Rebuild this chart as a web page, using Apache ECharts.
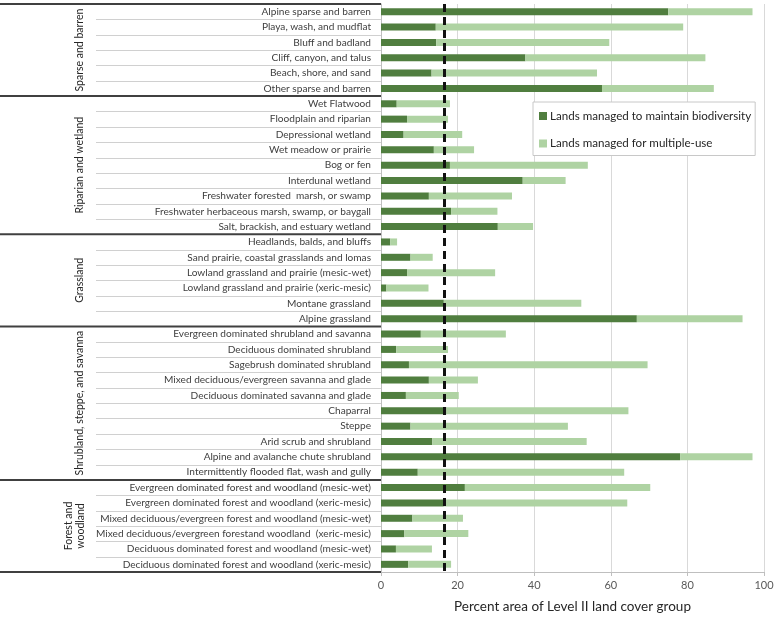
<!DOCTYPE html>
<html>
<head>
<meta charset="utf-8">
<script src="https://cdn.jsdelivr.net/npm/echarts@6/dist/echarts.min.js"></script>
<style>html,body{margin:0;padding:0;background:#fff}#c{width:776px;height:618px}</style>
</head>
<body>
<div id="c"></div>
<script>
const categories = [
  "Alpine sparse and barren","Playa, wash, and mudflat","Bluff and badland","Cliff, canyon, and talus","Beach, shore, and sand","Other sparse and barren",
  "Wet Flatwood","Floodplain and riparian","Depressional wetland","Wet meadow or prairie","Bog or fen","Interdunal wetland","Freshwater forested  marsh, or swamp","Freshwater herbaceous marsh, swamp, or baygall","Salt, brackish, and estuary wetland",
  "Headlands, balds, and bluffs","Sand prairie, coastal grasslands and lomas","Lowland grassland and prairie (mesic-wet)","Lowland grassland and prairie (xeric-mesic)","Montane grassland","Alpine grassland",
  "Evergreen dominated shrubland and savanna","Deciduous dominated shrubland","Sagebrush dominated shrubland","Mixed deciduous/evergreen savanna and glade","Deciduous dominated savanna and glade","Chaparral","Steppe","Arid scrub and shrubland","Alpine and avalanche chute shrubland","Intermittently flooded flat, wash and gully",
  "Evergreen dominated forest and woodland (mesic-wet)","Evergreen dominated forest and woodland (xeric-mesic)","Mixed deciduous/evergreen forest and woodland (mesic-wet)","Mixed deciduous/evergreen forestand woodland  (xeric-mesic)","Deciduous dominated forest and woodland (mesic-wet)","Deciduous dominated forest and woodland (xeric-mesic)"
];
const biodiversity = [
  75.0,14.3,14.4,37.7,13.2,57.7,
  4.1,6.8,5.9,13.8,18.0,37.0,12.5,18.3,30.5,
  2.4,7.7,6.8,1.4,16.4,66.8,
  10.4,4.0,7.3,12.5,6.5,17.1,7.7,13.4,78.1,9.6,
  21.9,16.4,8.2,6.1,3.9,7.1
];
const multipleUse = [
  22.0,64.6,45.2,47.0,43.2,29.2,
  13.9,10.7,15.3,10.5,36.0,11.2,21.7,12.1,9.2,
  1.8,5.8,23.0,11.0,35.9,27.6,
  22.2,13.5,62.3,12.8,13.8,47.5,41.1,40.3,18.9,53.9,
  48.4,47.9,13.2,16.7,9.4,11.2
];
const groupNames = ["Sparse and barren","Riparian and wetland","Grassland","Shrubland, steppe, and savanna","Forest and\nwoodland"];
const groupSizes = [6,9,6,10,6];
const referenceLine = 16.4;
const xTicks = {min:0, max:100, interval:20};
const seriesNames = ["Lands managed to maintain biodiversity","Lands managed for multiple-use"];

const FONT = "Lato";
const chart = echarts.init(document.getElementById('c'), null, {renderer:'canvas'});
const option = {
  animation:false,
  textStyle:{fontFamily:FONT},
  grid:{left:381, right:12, top:4, bottom:46, containLabel:false, outerBoundsMode:'none'},
  legend:{
    orient:'vertical', left:533, top:102,
    data:seriesNames, icon:'rect', itemWidth:8, itemHeight:8, itemGap:15.5, itemStyle:{borderWidth:0},
    padding:[8,4,6,6], borderColor:'#c8c8c8', borderWidth:1, backgroundColor:'#fff',
    textStyle:{fontFamily:FONT, fontSize:11.6, color:'#262626', padding:[0,0,0,-2]}, selectedMode:false, z:10
  },
  xAxis:{
    type:'value', min:xTicks.min, max:xTicks.max, interval:xTicks.interval,
    name:'Percent area of Level II land cover group', nameLocation:'middle', nameGap:28,
    nameTextStyle:{fontFamily:FONT, fontSize:13.5, color:'#262626'},
    axisLine:{show:true, lineStyle:{color:'#bfbfbf', width:1}},
    axisTick:{show:true, length:4, lineStyle:{color:'#bfbfbf'}},
    axisLabel:{fontFamily:FONT, fontSize:11, color:'#595959', margin:8},
    splitLine:{show:true, lineStyle:{color:'#d9d9d9', width:1}}
  },
  yAxis:{
    type:'category', data:categories, inverse:true,
    axisLine:{show:true, lineStyle:{color:'#bfbfbf', width:1}},
    axisTick:{show:false},
    axisLabel:{fontFamily:FONT, fontSize:10.1, color:'#404040', margin:10, interval:0}
  },
  series:[
    {name:seriesNames[0], type:'bar', stack:'t', data:biodiversity, barWidth:7, itemStyle:{color:'#507e3f'},
     markLine:{silent:true, symbol:['none','none'], label:{show:false},
       lineStyle:{color:'#111', type:[8,5], width:3}, data:[{xAxis:referenceLine}]}, z:2},
    {name:seriesNames[1], type:'bar', stack:'t', data:multipleUse, barWidth:7, itemStyle:{color:'#afd3a3'}, z:2}
  ]
};
chart.setOption(option);

// left-side table decorations computed from the category axis
function decorate(){
  const c0 = chart.convertToPixel({yAxisIndex:0}, categories[0]);
  const c1 = chart.convertToPixel({yAxisIndex:0}, categories[1]);
  const band = c1 - c0;
  const axisX = chart.convertToPixel({xAxisIndex:0}, 0);
  const els = [];
  let start = 0;
  const top = c0 - band/2;
  els.push({type:'line', shape:{x1:0, y1:top, x2:axisX, y2:top}, style:{stroke:'#404040', lineWidth:2}, z:5});
  groupNames.forEach((g, gi) => {
    const n = groupSizes[gi];
    for (let i = start; i < start + n - 1; i++) {
      const y = Math.round(chart.convertToPixel({yAxisIndex:0}, categories[i]) + band/2) + 0.5;
      els.push({type:'line', shape:{x1:96, y1:y, x2:axisX, y2:y}, style:{stroke:'#d0d0d0', lineWidth:1}, z:4});
    }
    const yEnd = chart.convertToPixel({yAxisIndex:0}, categories[start+n-1]) + band/2;
    els.push({type:'line', shape:{x1:0, y1:yEnd, x2:axisX, y2:yEnd}, style:{stroke:'#404040', lineWidth:2}, z:5});
    const yMid = (chart.convertToPixel({yAxisIndex:0}, categories[start]) - band/2 + yEnd)/2;
    const nLines = g.split('\n').length;
    els.push({type:'text', x:80 - (nLines-1)*5.5, y:yMid, rotation:Math.PI/2,
      style:{text:g, fontFamily:FONT, fontSize:10.5, fill:'#262626', align:'center', verticalAlign:'middle', lineHeight:11.5}, z:5});
    start += n;
  });
  chart.setOption({graphic:{elements:els}});
}
decorate();
</script>
</body>
</html>
